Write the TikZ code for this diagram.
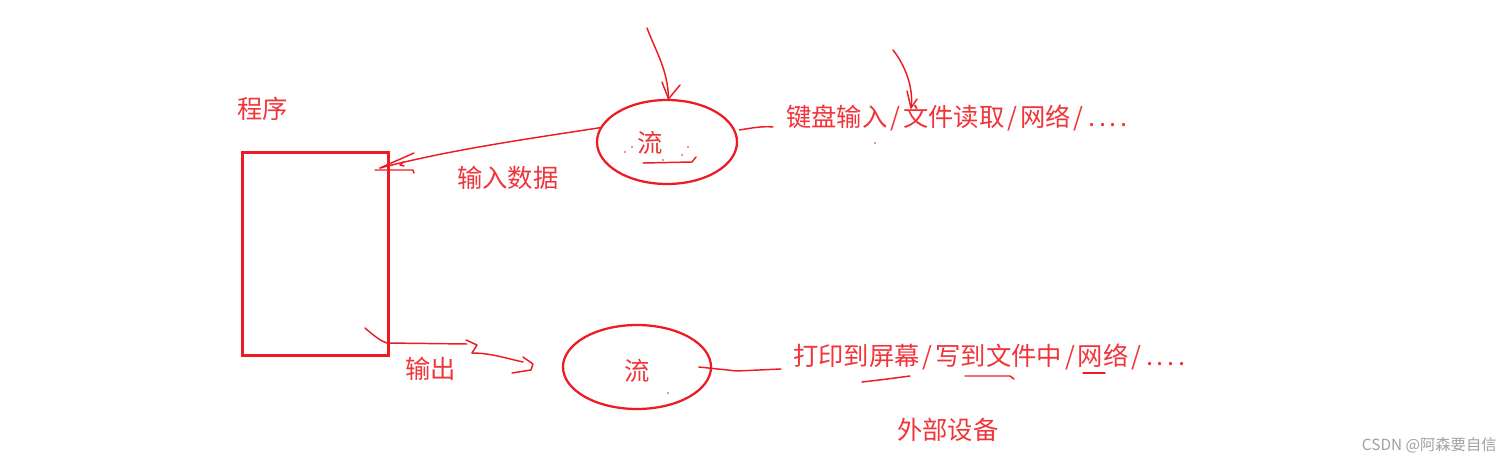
\documentclass[tikz,border=0pt]{standalone}
\usepackage{fontspec}
\usetikzlibrary{shapes.geometric}
\newfontfamily\cjk{Noto Sans CJK SC}
\definecolor{penred}{RGB}{237,28,36}
\definecolor{inkred}{RGB}{240,52,58}
\definecolor{markgray}{RGB}{160,160,160}
\newcommand{\pathsep}{\makebox[0.62em]{/}}
\newcommand{\dotmark}{\makebox[0.42em]{.}}
\tikzset{
  pen/.style={draw=penred, line width=1.1pt, line cap=round, line join=round},
  note/.style={text=inkred, font=\cjk\fontsize{19pt}{21pt}\selectfont, inner sep=0pt, anchor=west},
  bubble/.style={ellipse, draw=penred, line width=1.7pt, inner sep=0pt},
}
\begin{document}
\begin{tikzpicture}[x=0.75pt,y=0.75pt,yscale=-1,xscale=1]
\path[use as bounding box] (0,0) rectangle (1507,464);

%Shape: Rectangle
\node [draw=penred, line width=2.25pt, minimum width=109.5pt, minimum height=152.25pt, inner sep=0pt] (program) at (315,253.5) {};
%Shape: Ellipse
\node [bubble, minimum width=105pt, minimum height=63pt] (inflow) at (667,142) {};
%Shape: Ellipse
\node [bubble, minimum width=111pt, minimum height=63pt] (outflow) at (637,367) {};

% Text Node
\node [note] (progLabel) at (237,109) {程序};
% Text Node
\node [note, anchor=center] (inText) at (650,143) {流};
% Text Node
\node [note, anchor=center] (outText) at (637,371) {流};
% Text Node
\node [note] (inLabel) at (457,178) {输入数据};
% Text Node
\node [note] (outLabel) at (405,369) {输出};
% Text Node
\node [note] (inDevices) at (786,118) {键盘输入\pathsep 文件读取\pathsep 网络\pathsep\dotmark\dotmark\dotmark\dotmark};
% Text Node
\node [note] (outDevices) at (793,357) {打印到屏幕\pathsep 写到文件中\pathsep 网络\pathsep\dotmark\dotmark\dotmark\dotmark};
% Text Node
\node [note] (extLabel) at (897,430) {外部设备};
% Text Node
\node [text=markgray, font=\cjk\fontsize{11.5pt}{13pt}\selectfont, anchor=east, inner sep=0pt] (mark) at (1497,445) {CSDN @阿森要自信};

% free ends of the strokes
\coordinate (inTip) at (380,168);
\coordinate (topStart) at (647,28);
\coordinate (readStart) at (893,50);
\coordinate (readTip) at (911,108);
\coordinate (inLineEnd) at (773,127);
\coordinate (outStart) at (365,328);
\coordinate (outMid) at (472,353);
\coordinate (outTip) at (533,364);
\coordinate (outLineEnd) at (781,369);

% stream -> program
\draw [pen] (inflow.168) .. controls (520,140) and (450,150) .. (inTip);
\draw [pen] (414,153) -- (inTip);
\draw [pen] (375,170) -- (413,170) -- (414,173);
\draw [pen] (403,162) -- (400,165) -- (404,166);
% arrows from above
\draw [pen] (topStart) .. controls (656,52) and (668,70) .. (inflow.88);
\draw [pen] (662,82) -- (inflow.88) -- (680,85);
\draw [pen] (readStart) .. controls (905,65) and (914,88) .. (readTip);
\draw [pen] (907,91) -- (readTip) -- (917,99);
% stream -- devices
\draw [pen] ([xshift=3pt]inflow.10) .. controls (752,128) and (762,126) .. (inLineEnd);
\draw [pen] ([xshift=-10pt]outflow.east) -- (737,371) -- (outLineEnd);
% program -> stream
\draw [pen] (outStart) .. controls (372,334) and (380,341) .. (387,343) -- (467,344);
\draw [pen] (466,340) -- (477,345) -- (outMid);
\draw [pen] (outMid) .. controls (490,353) and (505,358) .. (523,362);
\draw [pen] (523,357) -- (outTip) -- (531,370) -- (512,373);
% underlines
\draw [pen] (643,163) -- (692,162) -- (696,157);
\draw [pen] (862,382) .. controls (880,380) and (895,378) .. (910,376);
\draw [pen] (965,376) -- (1010,376) -- (1014,379);
\draw [pen] (1083,373) -- (1105,373);
% specks
\foreach \p in {(625,152),(632,147),(688,147),(663,160),(682,155),(875,143),(668,393)}
  \fill [penred] \p circle (0.8);

\end{tikzpicture}
\end{document}
